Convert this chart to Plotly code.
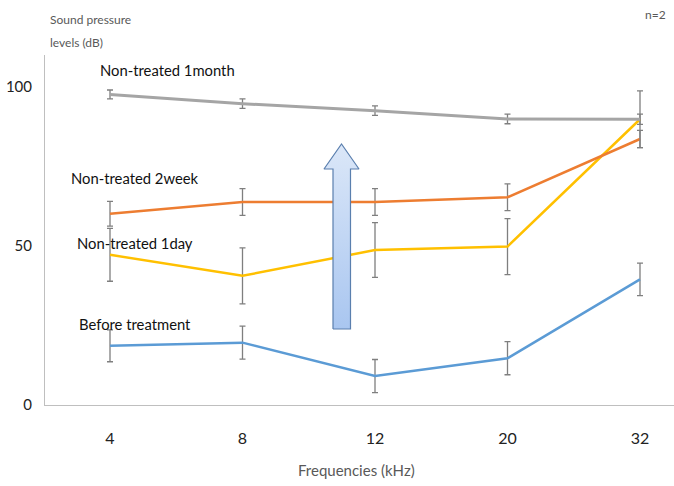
import plotly.graph_objects as go

# ---- data ----
frequencies = ["4", "8", "12", "20", "32"]
before_treatment = [18.6, 19.6, 9.1, 14.7, 39.5]
before_err = [5.0, 5.2, 5.2, 5.2, 5.1]
nontreated_1day = [47.2, 40.6, 48.7, 49.8, 89.8]
day1_err = [8.3, 8.8, 8.6, 8.8, 1.6]
nontreated_2week = [60.1, 63.8, 63.8, 65.3, 83.6]
week2_err = [3.9, 4.2, 4.2, 4.2, 2.7]
nontreated_1month = [97.6, 94.7, 92.5, 89.9, 89.8]
month1_err = [1.4, 1.5, 1.5, 1.5, 8.9]
y_ticks = [0, 50, 100]

FONT = "Lato"
W, H = 674, 486
ML, MR, MT, MB = 45, 0, 55, 81
PW, PH = W - ML - MR, H - MT - MB

xi = list(range(len(frequencies)))
err_color = "#7f7f7f"

fig = go.Figure()

def add_series(y, err, color, width):
    fig.add_trace(go.Scatter(
        x=xi, y=y, mode="lines",
        line=dict(color=color, width=width),
        error_y=dict(type="data", array=err, visible=True,
                     color=err_color, thickness=1.3, width=3),
        showlegend=False, hoverinfo="skip"))

add_series(before_treatment, before_err, "#5B9BD5", 2.5)
add_series(nontreated_1day, day1_err, "#FFC000", 2.5)
add_series(nontreated_2week, week2_err, "#ED7D31", 2.5)
add_series(nontreated_1month, month1_err, "#A5A5A5", 3)

# arrow decoration on an overlay pixel axis
ax = [333, 333, 324, 341.5, 359, 350.5, 350.5, 333]
ay = [329, 169, 169, 144, 169, 169, 329, 329]
fig.add_trace(go.Scatter(
    x=ax, y=ay, xaxis="x2", yaxis="y2", mode="lines",
    fill="toself",
    fillgradient=dict(type="vertical",
                      colorscale=[[0, "#a9c6f0"], [1, "#dbe7f8"]]),
    line=dict(color="#5a7fae", width=1.2),
    showlegend=False, hoverinfo="skip"))

x_left = -65 / 132.5
x_right = (W - 110) / 132.5

fig.update_layout(
    width=W, height=H,
    margin=dict(l=ML, r=MR, t=MT, b=MB),
    paper_bgcolor="white", plot_bgcolor="white",
    font=dict(family=FONT, color="#333333"),
    xaxis=dict(range=[x_left, x_right], tickvals=xi, ticktext=frequencies,
               showgrid=False, zeroline=False, showline=True,
               linecolor="#bfbfbf", linewidth=1, ticks="",
               tickfont=dict(size=16, color="#222222"),
               ticklabelstandoff=19),
    yaxis=dict(range=[0, 110], tickvals=y_ticks,
               showgrid=False, zeroline=False, showline=True,
               linecolor="#bfbfbf", linewidth=1, ticks="",
               tickfont=dict(size=15, color="#222222"),
               ticklabelstandoff=9),
    xaxis2=dict(range=[ML, W - MR], overlaying="x", visible=False),
    yaxis2=dict(range=[H - MB, MT], overlaying="y", visible=False),
)

def px(xp):
    return (xp - ML) / PW

def py(yp):
    return (H - MB - yp) / PH

ann = []
labels = [("Non-treated 1month", 98, 70),
          ("Non-treated 2week", 69, 178),
          ("Non-treated 1day", 75, 243),
          ("Before treatment", 77, 324)]
for t, x0, y0 in labels:
    ann.append(dict(text=t, x=px(x0), y=py(y0), xref="paper", yref="paper",
                    xanchor="left", yanchor="middle", showarrow=False,
                    font=dict(size=14.8, color="#111111", family=FONT)))
for t, y0 in [("Sound pressure", 19), ("levels (dB)", 42)]:
    ann.append(dict(text=t, x=px(48), y=py(y0),
                    xref="paper", yref="paper", xanchor="left", yanchor="middle",
                    showarrow=False,
                    font=dict(size=12, color="#595959", family=FONT)))
ann.append(dict(text="n=2", x=px(668), y=py(15), xref="paper", yref="paper",
                xanchor="right", yanchor="middle", showarrow=False,
                font=dict(size=12, color="#595959", family=FONT)))
ann.append(dict(text="Frequencies (kHz)", x=px(356), y=py(470),
                xref="paper", yref="paper", xanchor="center", yanchor="middle",
                showarrow=False, font=dict(size=15, color="#595959", family=FONT)))
fig.update_layout(annotations=ann)

fig.write_html("out.html", config={"displayModeBar": False},
               post_script="document.body.style.margin='0';")
